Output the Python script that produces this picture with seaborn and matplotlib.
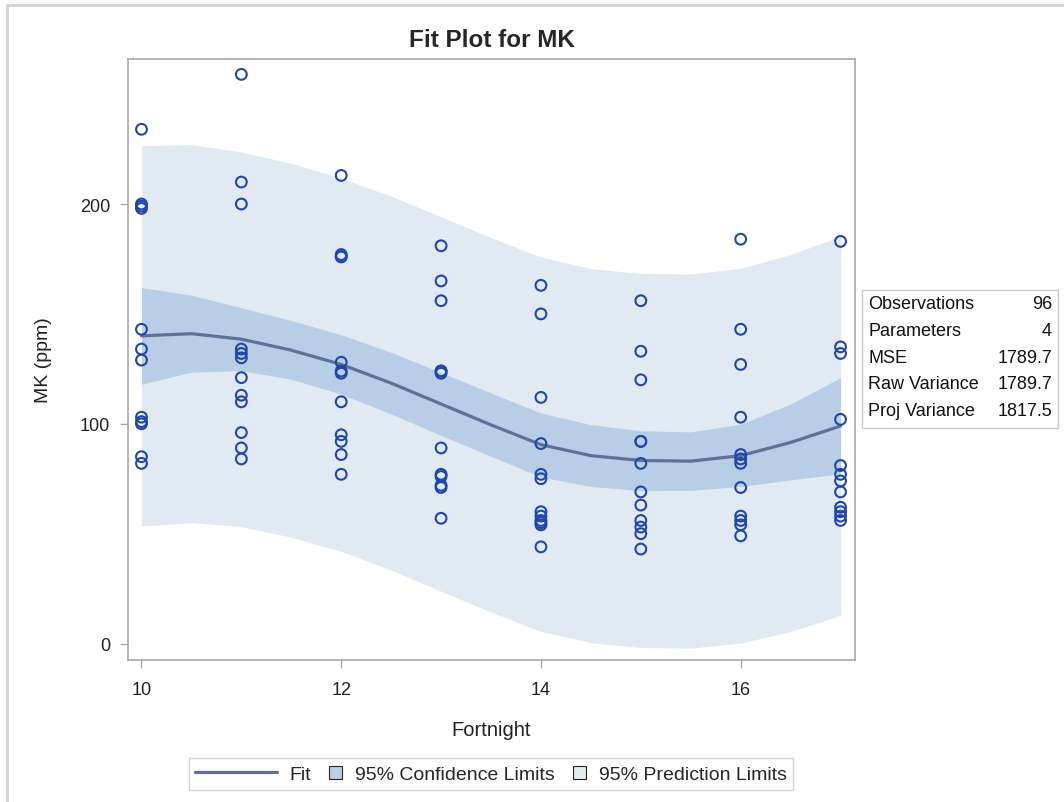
import numpy as np
import pandas as pd
import matplotlib.pyplot as plt
import seaborn as sns
from matplotlib.lines import Line2D
from matplotlib.patches import Patch, Rectangle
from matplotlib.legend_handler import HandlerPatch

fortnights = [10, 11, 12, 13, 14, 15, 16, 17]
mk_10 = [234, 200, 199, 198, 143, 134, 129, 103, 101, 100, 85, 82]
mk_11 = [259, 210, 200, 134, 132, 130, 121, 113, 110, 96, 89, 84]
mk_12 = [213, 177, 176, 176, 128, 124, 123, 110, 95, 92, 86, 77]
mk_13 = [181, 165, 156, 124, 124, 123, 89, 77, 76, 72, 71, 57]
mk_14 = [163, 150, 112, 91, 77, 75, 60, 58, 56, 55, 54, 44]
mk_15 = [156, 133, 120, 92, 92, 82, 69, 63, 56, 53, 50, 43]
mk_16 = [184, 143, 127, 103, 86, 84, 82, 71, 58, 56, 54, 49]
mk_17 = [183, 135, 132, 102, 81, 77, 74, 69, 62, 60, 58, 56]

# fitted curve and 95% limits, every half fortnight
band_x = [10, 10.5, 11, 11.5, 12, 12.5, 13, 13.5, 14, 14.5, 15, 15.5, 16, 16.5, 17]
fit_mk = [140, 141, 138.5, 133.5, 127, 118.5, 109, 99.5, 90.5, 85.5, 83.3, 83, 85.5, 91.5, 99]
ci_upper = [162, 158.5, 152.8, 147, 140.5, 132.5, 123.3, 114, 104.9, 99.6, 96.8, 96.3, 99.8, 109, 121]
ci_lower = [118, 123.5, 124.2, 120.3, 113.5, 104.5, 94.7, 85.2, 75.8, 71.5, 69.6, 69.7, 71.5, 74.5, 77.3]
pi_upper = [226.5, 227, 223.7, 218.5, 211.8, 203.6, 194.2, 184.7, 175.9, 170.6, 168.4, 168.1, 170.8, 177, 185.3]
pi_lower = [53.5, 55, 53.2, 48.4, 41.9, 33.4, 23.8, 14.3, 5.5, 0.4, -1.8, -2.1, 0.2, 5.5, 12.8]

stat_labels = ["Observations", "Parameters", "MSE", "Raw Variance", "Proj Variance"]
stat_values = ["96", "4", "1789.7", "1789.7", "1817.5"]

groups = [mk_10, mk_11, mk_12, mk_13, mk_14, mk_15, mk_16, mk_17]
df = pd.DataFrame({
    "Fortnight": np.repeat(fortnights, [len(g) for g in groups]),
    "MK": np.concatenate(groups),
})
fit_df = pd.DataFrame({"Fortnight": band_x, "MK": fit_mk})

point_color = "#1f47a8"
fit_color = "#5f7196"
ci_color = "#b8cde6"
pi_color = "#e1e9f3"
frame_color = "#a5a9ad"
text_color = "#222222"

sns.set_style("white")
plt.rcParams["font.family"] = ["Liberation Sans", "DejaVu Sans"]

fig = plt.figure(figsize=(10.64, 8.03), dpi=100)
ax = fig.add_axes([0.1203, 0.1768, 0.6833, 0.7485])

ax.fill_between(band_x, pi_lower, pi_upper, color=pi_color, lw=0)
ax.fill_between(band_x, ci_lower, ci_upper, color=ci_color, lw=0)
sns.lineplot(data=fit_df, x="Fortnight", y="MK", color=fit_color, linewidth=2.3, ax=ax)
sns.scatterplot(data=df, x="Fortnight", y="MK", marker="o", s=60,
                facecolor="none", edgecolor=point_color, linewidth=1.5, ax=ax, zorder=5)

ax.set_xlim(9.865, 17.145)
ax.set_ylim(-7.5, 266)
ax.set_xticks([10, 12, 14, 16])
ax.set_yticks([0, 100, 200])
for s in ax.spines.values():
    s.set_color(frame_color)
    s.set_linewidth(1.2)
ax.tick_params(axis="both", direction="out", length=6, width=1, color=frame_color,
               labelsize=13, labelcolor=text_color, bottom=True, left=True)
ax.tick_params(axis="x", pad=9)
ax.tick_params(axis="y", pad=7)
ax.set_xlabel("Fortnight", fontsize=14.5, color=text_color, labelpad=16)
ax.set_ylabel("MK (ppm)", fontsize=14, color=text_color, labelpad=20)
ax.set_title("Fit Plot for MK", fontsize=17.5, fontweight="bold", pad=9)

# fit statistics inset
fig.add_artist(Rectangle((862 / 1064, 1 - 429 / 803), 196 / 1064, 138 / 803,
                         transform=fig.transFigure, fill=False, edgecolor="#c8c8c8", lw=1))
for i, (lab, val) in enumerate(zip(stat_labels, stat_values)):
    yy = 1 - (305 + i * 26.6) / 803
    fig.text(868 / 1064, yy, lab, fontsize=13, va="center", ha="left", color="#111111")
    fig.text(1052 / 1064, yy, val, fontsize=13, va="center", ha="right", color="#111111")


def square_handle(legend, orig_handle, xdescent, ydescent, width, height, fontsize):
    side = 13 * 72 / 100
    return Rectangle((width - side - xdescent, -ydescent + (height - side) / 2), side, side)


handles = [
    Line2D([], [], color=fit_color, lw=2.3),
    Patch(facecolor=ci_color, edgecolor="#222222", lw=0.8),
    Patch(facecolor=pi_color, edgecolor="#222222", lw=0.8),
]
leg = fig.legend(handles, ["Fit", "95% Confidence Limits", "95% Prediction Limits"],
                 loc="center", bbox_to_anchor=(491 / 1064, 1 - 775 / 803), ncol=3,
                 fontsize=14, frameon=True, fancybox=False, handlelength=4.2,
                 columnspacing=-2.6, handletextpad=0.65, borderpad=0.35,
                 handler_map={Patch: HandlerPatch(patch_func=square_handle)})
leg.get_frame().set_edgecolor("#c8c8c8")
leg.get_frame().set_linewidth(1)

# outer graph border (left and top edges visible in the reference)
fig.add_artist(Line2D([7 / 1064, 7 / 1064], [0, 1 - 6 / 803], transform=fig.transFigure,
                      color="#d4d4d4", lw=2))
fig.add_artist(Line2D([7 / 1064, 1], [1 - 6 / 803, 1 - 6 / 803], transform=fig.transFigure,
                      color="#d4d4d4", lw=2))

fig.savefig("out.png", dpi=100)
